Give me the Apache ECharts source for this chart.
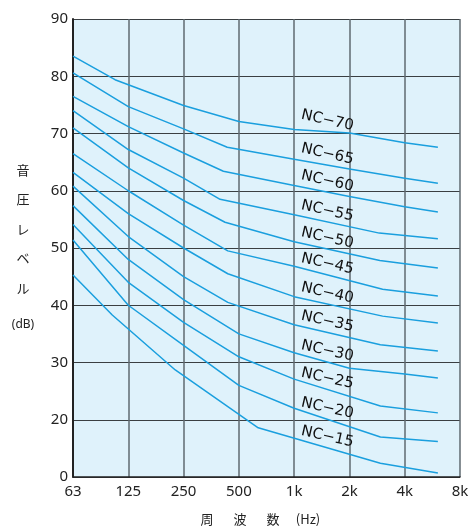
<!DOCTYPE html>
<html><head><meta charset="utf-8">
<script src="https://cdn.jsdelivr.net/npm/echarts@6/dist/echarts.min.js"></script>
<style>html,body{margin:0;padding:0;background:#fff}#c{width:473px;height:526px}</style>
</head><body><div id="c"></div>
<script>
// x position = octave index from 63 Hz (0=63, 1=125, ... 7=8k)
const freqLabels = ['63','125','250','500','1k','2k','4k','8k'];
const yTickLabels = ['0','20','30','40','50','60','70','80','90']; // ticks 10..90
const ncNames = ['NC\u221270','NC\u221265','NC\u221260','NC\u221255','NC\u221250','NC\u221245','NC\u221240','NC\u221235','NC\u221230','NC\u221225','NC\u221220','NC\u221215'];
const nc70 = [[0,83.5],[0.76,79.4],[2,74.9],[3,72.1],[4,70.7],[5,70.1],[6,68.4],[6.6,67.6]];
const nc65 = [[0,80.6],[1,74.7],[2,70.8],[2.79,67.6],[4,65.5],[5,63.8],[6,62.2],[6.6,61.3]];
const nc60 = [[0,76.5],[1,71.2],[2,66.6],[2.72,63.4],[4,60.9],[5,59.0],[6,57.2],[6.6,56.3]];
const nc55 = [[0,74.0],[1,67.2],[2,62.2],[2.66,58.5],[4,55.8],[5.54,52.6],[6.6,51.6]];
const nc50 = [[0,71.0],[1,64.0],[2,58.3],[2.75,54.5],[4,51.1],[5.55,47.8],[6.6,46.5]];
const nc45 = [[0,66.5],[1,60.0],[2,54.0],[2.8,49.5],[4,46.8],[5.6,42.8],[6.6,41.6]];
const nc40 = [[0,63.2],[1,56.0],[2,50.0],[2.8,45.5],[4,41.5],[5.6,38.1],[6.6,36.9]];
const nc35 = [[0,60.8],[1,52.0],[2,45.0],[2.8,40.5],[4,36.6],[5.56,33.1],[6.6,32.0]];
const nc30 = [[0,57.4],[1,48.0],[2,41.0],[3,35.0],[4,31.7],[5,29.0],[6,28.0],[6.6,27.3]];
const nc25 = [[0,54.1],[1,44.0],[2,37.0],[3,31.0],[4,27.1],[5.56,22.4],[6.6,21.2]];
const nc20 = [[0,51.4],[1,40.0],[2,33.0],[3,26.0],[4,22.0],[5.56,17.0],[6.6,16.2]];
const nc15 = [[0,45.3],[0.71,38.3],[1.85,28.7],[3.35,18.6],[5.56,12.4],[6.6,10.7]];
const curves = [nc70,nc65,nc60,nc55,nc50,nc45,nc40,nc35,nc30,nc25,nc20,nc15];

const FONT = '"Noto Sans","Noto Sans CJK JP",sans-serif';
const JFONT = '"Noto Sans CJK JP",sans-serif';
const chart = echarts.init(document.getElementById('c'), null, {renderer:'canvas'});
const option = {
  animation:false,
  grid:{left:73,right:13,top:19,bottom:49,show:true,backgroundColor:'#dff2fb',borderWidth:0},
  xAxis:{type:'value',min:0,max:7,interval:1,
    axisLine:{show:true,onZero:false,lineStyle:{color:'#222',width:1.5}},
    axisTick:{show:false},
    splitLine:{show:true,lineStyle:{color:'#5f6a70',width:1.5}},
    axisLabel:{color:'#222',fontSize:15,fontFamily:FONT,margin:7,formatter:v=>freqLabels[Math.round(v)]}},
  yAxis:{type:'value',min:10,max:90,interval:10,
    axisLine:{show:true,lineStyle:{color:'#222',width:2}},
    axisTick:{show:false},
    splitLine:{show:true,lineStyle:{color:'#3a3f42',width:1.2}},
    axisLabel:{color:'#222',fontSize:15,fontFamily:FONT,margin:5,formatter:v=>yTickLabels[Math.round(v/10)-1]}},
  series: curves.map((d,i)=>({type:'line',name:ncNames[i],data:d,symbol:'none',
    lineStyle:{color:'#1a9fde',width:1.5},z:3})),
  graphic:[]
};
chart.setOption(option);

function valAt(d,u){
  for(let i=0;i<d.length-1;i++){
    if(u>=d[i][0]&&u<=d[i+1][0]){const t=(u-d[i][0])/(d[i+1][0]-d[i][0]);return d[i][1]+t*(d[i+1][1]-d[i][1]);}
  }
  return d[d.length-1][1];
}
const labelU = 4.6;
const g = [];
curves.forEach((d,i)=>{
  const p = chart.convertToPixel({gridIndex:0},[labelU,valAt(d,labelU)]);
  g.push({type:'text',x:p[0],y:p[1]-11,rotation:-0.22,z:10,
    style:{text:ncNames[i],fill:'#111',font:'15px "DejaVu Sans",sans-serif',align:'center',verticalAlign:'middle'}});
});
g.push({type:'text',x:23,y:229,z:10,style:{text:'音\n圧\nレ\nベ\nル',fill:'#222',font:'13px '+JFONT,align:'center',verticalAlign:'middle',lineHeight:29.5}});
g.push({type:'text',x:23,y:325,z:10,style:{text:'(dB)',fill:'#222',font:'12px '+FONT,align:'center',verticalAlign:'middle'}});
[['周',207],['波',240],['数',273],['(Hz)',308]].forEach(([t,x])=>{
  g.push({type:'text',x:x,y:519,z:10,style:{text:t,fill:'#222',font:'13px '+JFONT,align:'center',verticalAlign:'middle'}});
});
chart.setOption({graphic:g});
</script></body></html>
